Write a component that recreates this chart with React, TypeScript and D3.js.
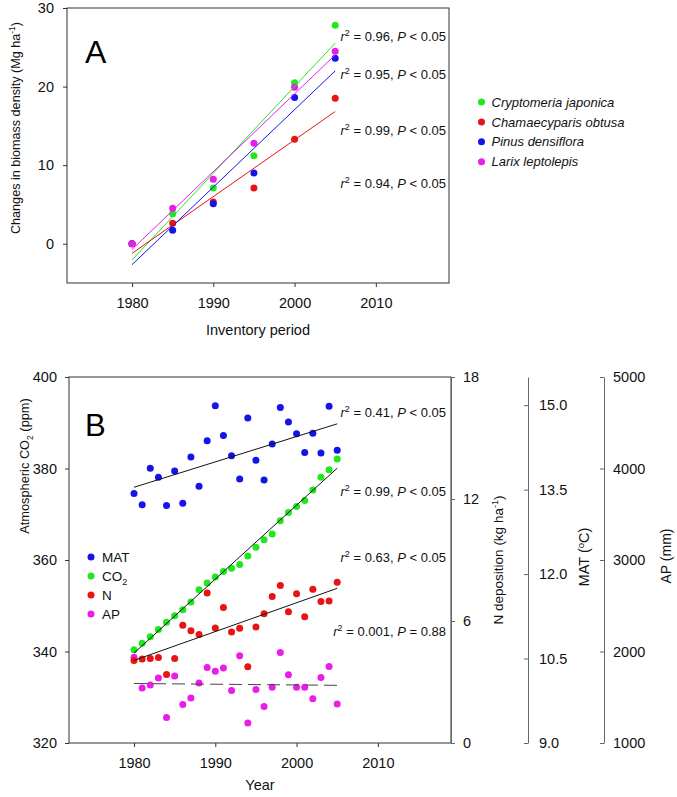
import * as d3 from 'd3';
import React, { useEffect, useRef } from 'react';

// ---- Panel A: biomass density change by species ----
const yearsA = [1980, 1985, 1990, 1995, 2000, 2005];
const cryptomeria = [0, 3.8, 7.1, 11.2, 20.5, 27.8];
const chamaecyparis = [0, 2.6, 5.3, 7.1, 13.3, 18.5];
const pinus = [0, 1.7, 5.1, 9.0, 18.6, 23.6];
const larix = [0, 4.5, 8.2, 12.8, 19.9, 24.5];
const speciesNames = ['Cryptomeria japonica', 'Chamaecyparis obtusa', 'Pinus densiflora', 'Larix leptolepis'];
const speciesColors = ['#1fe81f', '#e81414', '#1414e8', '#e81ee8'];
const statsA = [
  { r2: '0.96', p: '< 0.05' },
  { r2: '0.95', p: '< 0.05' },
  { r2: '0.99', p: '< 0.05' },
  { r2: '0.94', p: '< 0.05' },
];

// ---- Panel B: environmental drivers ----
const yearsB = [1980, 1981, 1982, 1983, 1984, 1985, 1986, 1987, 1988, 1989, 1990, 1991, 1992,
  1993, 1994, 1995, 1996, 1997, 1998, 1999, 2000, 2001, 2002, 2003, 2004, 2005];
const mat = [13.43, 13.23, 13.88, 13.72, 13.22, 13.83, 13.26, 14.08, 13.56, 14.37, 14.99, 14.46, 14.1,
  13.69, 14.77, 14.02, 13.67, 14.31, 14.96, 14.7, 14.49, 14.16, 14.5, 14.15, 14.98, 14.2];
const co2 = [340.4, 341.8, 343.2, 344.8, 346.4, 347.8, 349.1, 350.8, 353.5, 355.0, 356.3, 357.5, 358.2,
  359.0, 360.9, 362.8, 364.4, 365.7, 368.6, 370.4, 371.7, 373.0, 375.3, 378.1, 379.7, 382.1];
const nDep = [4.06, 4.13, 4.16, 4.21, 3.37, 4.15, 5.79, 5.52, 5.33, 7.38, 5.66, 6.67, 5.46,
  5.64, 3.75, 5.71, 6.36, 7.2, 7.75, 6.46, 7.34, 6.21, 7.56, 6.96, 6.98, 7.9];
const ap = [1936, 1601, 1634, 1710, 1280, 1732, 1422, 1492, 1656, 1826, 1783, 1820, 1575,
  1954, 1219, 1586, 1400, 1608, 1990, 1746, 1608, 1608, 1484, 1717, 1837, 1426];
const driverNames = ['MAT', 'CO2', 'N', 'AP'];
const driverColors = ['#1414e8', '#1fe81f', '#e81414', '#e81ee8'];
const statsB = [
  { r2: '0.41', p: '< 0.05' },
  { r2: '0.99', p: '< 0.05' },
  { r2: '0.63', p: '< 0.05' },
  { r2: '0.001', p: '= 0.88' },
];

const W = 677;
const H = 797;
const FONT = '"Liberation Sans", Arial, sans-serif';
const TICK = 14.5;

// ordinary least squares
function fit(xs: number[], ys: number[]) {
  const mx = d3.mean(xs) as number;
  const my = d3.mean(ys) as number;
  const sxy = d3.sum(xs, (x, i) => (x - mx) * (ys[i] - my));
  const sxx = d3.sum(xs, x => (x - mx) ** 2);
  const b = sxy / sxx;
  return (x: number) => my - b * mx + b * x;
}

function statText(g: any, x: number, y: number, r2: string, p: string) {
  const t = g.append('text').attr('x', x).attr('y', y).attr('text-anchor', 'end')
    .attr('font-size', 13).attr('fill', '#111');
  t.append('tspan').attr('font-style', 'italic').text('r');
  t.append('tspan').attr('font-size', 9).attr('dy', -5).text('2');
  t.append('tspan').attr('dy', 5).text(` = ${r2}, `);
  t.append('tspan').attr('font-style', 'italic').text('P');
  t.append('tspan').text(` ${p}`);
}

function styleAxis(g: any, color: string, size: number) {
  g.selectAll('path').attr('stroke', color);
  g.selectAll('line').attr('stroke', color);
  g.selectAll('text').attr('font-size', size).attr('font-family', FONT).attr('fill', '#111');
}

const App: React.FC = () => {
  const ref = useRef<SVGSVGElement>(null);

  useEffect(() => {
    const svg = d3.select(ref.current);
    svg.selectAll('*').remove();
    svg.attr('font-family', FONT);

    // ================= Panel A =================
    const xA = d3.scaleLinear().domain([1972, 2019]).range([67, 449]);
    const yA = d3.scaleLinear().domain([-5, 30]).range([283, 8]);
    const gA = svg.append('g');

    gA.append('rect').attr('x', 67).attr('y', 8).attr('width', 449 - 67).attr('height', 283 - 8)
      .attr('fill', 'none').attr('stroke', '#333').attr('stroke-width', 1);

    const axA1 = gA.append('g').attr('transform', 'translate(67,0)')
      .call(d3.axisLeft(yA).tickValues([0, 10, 20, 30]).tickSize(4).tickSizeOuter(0).tickPadding(9));
    axA1.select('.domain').remove();
    styleAxis(axA1, '#333', TICK);

    const axA2 = gA.append('g').attr('transform', 'translate(0,283)')
      .call(d3.axisBottom(xA).tickValues([1980, 1990, 2000, 2010]).tickFormat(d3.format('d'))
        .tickSize(4).tickSizeOuter(0).tickPadding(11));
    axA2.select('.domain').remove();
    styleAxis(axA2, '#333', TICK);

    const speciesSeries = [cryptomeria, chamaecyparis, pinus, larix];
    speciesSeries.forEach((ys, k) => {
      gA.append('g').selectAll('circle').data(ys).join('circle')
        .attr('cx', (_, i) => xA(yearsA[i])).attr('cy', d => yA(d)).attr('r', 3.5)
        .attr('fill', speciesColors[k]);
    });
    speciesSeries.forEach((ys, k) => {
      const f = fit(yearsA, ys);
      const ends = [yearsA[0], yearsA[yearsA.length - 1]];
      gA.append('path')
        .attr('d', d3.line<number>().x(d => xA(d)).y(d => yA(f(d)))(ends))
        .attr('stroke', speciesColors[k]).attr('stroke-width', 1).attr('fill', 'none');
    });

    const statYA = [41, 79, 135, 188];
    statsA.forEach((s, i) => statText(gA, 446, statYA[i], s.r2, s.p));

    gA.append('text').attr('x', 85).attr('y', 63).attr('font-size', 32).text('A');

    // legend A
    const legA = gA.append('g').selectAll('g').data(speciesNames).join('g')
      .attr('transform', (_, i) => `translate(481.5,${102 + i * 19.9})`);
    legA.append('circle').attr('r', 3.5).attr('fill', (_, i) => speciesColors[i]);
    legA.append('text').attr('x', 10).attr('dy', '0.36em').attr('font-size', 13)
      .attr('font-style', 'italic').attr('fill', '#111').text(d => d);

    // axis titles A
    const tA = gA.append('text').attr('transform', 'translate(20,128) rotate(-90)')
      .attr('text-anchor', 'middle').attr('font-size', 12.6).attr('fill', '#111');
    tA.append('tspan').text('Changes in biomass density (Mg ha');
    tA.append('tspan').attr('font-size', 8.5).attr('dy', -5).text('-1');
    tA.append('tspan').attr('dy', 5).text(')');
    gA.append('text').attr('x', 258).attr('y', 335).attr('text-anchor', 'middle')
      .attr('font-size', TICK).attr('fill', '#111').text('Inventory period');

    // ================= Panel B =================
    const x0 = 69, x1 = 451, yTop = 377, yBot = 743;
    const xB = d3.scaleLinear().domain([1972, 2019]).range([x0, x1]);
    const yCO2 = d3.scaleLinear().domain([320, 400]).range([yBot, yTop]);
    const yN = d3.scaleLinear().domain([0, 18]).range([yBot, yTop]);
    const yMAT = d3.scaleLinear().domain([9, 15.5]).range([yBot, yTop]);
    const yAP = d3.scaleLinear().domain([1000, 5000]).range([yBot, yTop]);
    const gB = svg.append('g');

    gB.append('rect').attr('x', x0).attr('y', yTop).attr('width', x1 - x0).attr('height', yBot - yTop)
      .attr('fill', 'none').attr('stroke', '#333').attr('stroke-width', 1);

    const axB1 = gB.append('g').attr('transform', `translate(${x0},0)`)
      .call(d3.axisLeft(yCO2).tickValues([320, 340, 360, 380, 400]).tickSize(4).tickSizeOuter(0).tickPadding(8));
    axB1.select('.domain').remove();
    styleAxis(axB1, '#333', TICK);

    const axB2 = gB.append('g').attr('transform', `translate(0,${yBot})`)
      .call(d3.axisBottom(xB).tickValues([1980, 1990, 2000, 2010]).tickFormat(d3.format('d'))
        .tickSize(4).tickSizeOuter(0).tickPadding(11));
    axB2.select('.domain').remove();
    styleAxis(axB2, '#333', TICK);

    const axN = gB.append('g').attr('transform', `translate(${x1},0)`)
      .call(d3.axisRight(yN).tickValues([0, 6, 12, 18]).tickSize(4).tickSizeOuter(0).tickPadding(8));
    styleAxis(axN, '#666', TICK);

    const axMAT = gB.append('g').attr('transform', 'translate(528,0)')
      .call(d3.axisRight(yMAT).tickValues([9, 10.5, 12, 13.5, 15]).tickFormat(d3.format('.1f'))
        .tickSize(-4).tickSizeOuter(0).tickPadding(11));
    styleAxis(axMAT, '#666', TICK);

    const axAP = gB.append('g').attr('transform', 'translate(604,0)')
      .call(d3.axisRight(yAP).tickValues([1000, 2000, 3000, 4000, 5000]).tickFormat(d3.format('d'))
        .tickSize(-4).tickSizeOuter(0).tickPadding(9));
    styleAxis(axAP, '#666', TICK);

    const driverSeries = [
      { ys: mat, sc: yMAT },
      { ys: co2, sc: yCO2 },
      { ys: nDep, sc: yN },
      { ys: ap, sc: yAP },
    ];
    [3, 2, 1, 0].forEach(k => {
      const { ys, sc } = driverSeries[k];
      gB.append('g').selectAll('circle').data(ys).join('circle')
        .attr('cx', (_, i) => xB(yearsB[i])).attr('cy', d => sc(d)).attr('r', 3.5)
        .attr('fill', driverColors[k]);
    });
    driverSeries.forEach(({ ys, sc }, k) => {
      const f = fit(yearsB, ys);
      const ends = [yearsB[0], yearsB[yearsB.length - 1]];
      gB.append('path')
        .attr('d', d3.line<number>().x(d => xB(d)).y(d => sc(f(d)))(ends))
        .attr('stroke', k === 3 ? '#444' : '#111').attr('stroke-width', 1).attr('fill', 'none')
        .attr('stroke-dasharray', k === 3 ? '13,6' : null);
    });

    const statYB = [417, 496, 562, 636];
    statsB.forEach((s, i) => statText(gB, 446, statYB[i], s.r2, s.p));

    gB.append('text').attr('x', 85).attr('y', 436).attr('font-size', 31).text('B');

    // legend B
    const legB = gB.append('g').selectAll('g').data(driverNames).join('g')
      .attr('transform', (_, i) => `translate(91,${557 + i * 19})`);
    legB.append('circle').attr('r', 3.5).attr('fill', (_, i) => driverColors[i]);
    const legBText = legB.append('text').attr('x', 11).attr('dy', '0.36em').attr('font-size', 13.5)
      .attr('fill', '#111');
    legBText.each(function (d) {
      const t = d3.select(this);
      if (d === 'CO2') {
        t.append('tspan').text('CO');
        t.append('tspan').attr('font-size', 9).attr('dy', 4).text('2');
      } else {
        t.text(d);
      }
    });

    // axis titles B
    const tB = gB.append('text').attr('transform', 'translate(29,466) rotate(-90)')
      .attr('text-anchor', 'middle').attr('font-size', 12.8).attr('fill', '#111');
    tB.append('tspan').text('Atmospheric CO');
    tB.append('tspan').attr('font-size', 8.5).attr('dy', 4).text('2');
    tB.append('tspan').attr('dy', -4).text(' (ppm)');

    const tN = gB.append('text').attr('transform', 'translate(503,560) rotate(-90)')
      .attr('text-anchor', 'middle').attr('font-size', 13.5).attr('fill', '#111');
    tN.append('tspan').text('N deposition (kg ha');
    tN.append('tspan').attr('font-size', 9).attr('dy', -5).text('-1');
    tN.append('tspan').attr('dy', 5).text(')');

    const tM = gB.append('text').attr('transform', 'translate(589,557) rotate(-90)')
      .attr('text-anchor', 'middle').attr('font-size', 14.5).attr('fill', '#111');
    tM.append('tspan').text('MAT (');
    tM.append('tspan').attr('font-size', 9.5).attr('dy', -5).text('o');
    tM.append('tspan').attr('dy', 5).text('C)');

    gB.append('text').attr('transform', 'translate(671,556) rotate(-90)')
      .attr('text-anchor', 'middle').attr('font-size', 14).attr('fill', '#111').text('AP (mm)');

    gB.append('text').attr('x', 260).attr('y', 790).attr('text-anchor', 'middle')
      .attr('font-size', TICK).attr('fill', '#111').text('Year');
  }, []);

  return (
    <svg ref={ref} width={W} height={H}
      style={{ position: 'absolute', left: 0, top: 0, background: '#fff' }} />
  );
};

export default App;
